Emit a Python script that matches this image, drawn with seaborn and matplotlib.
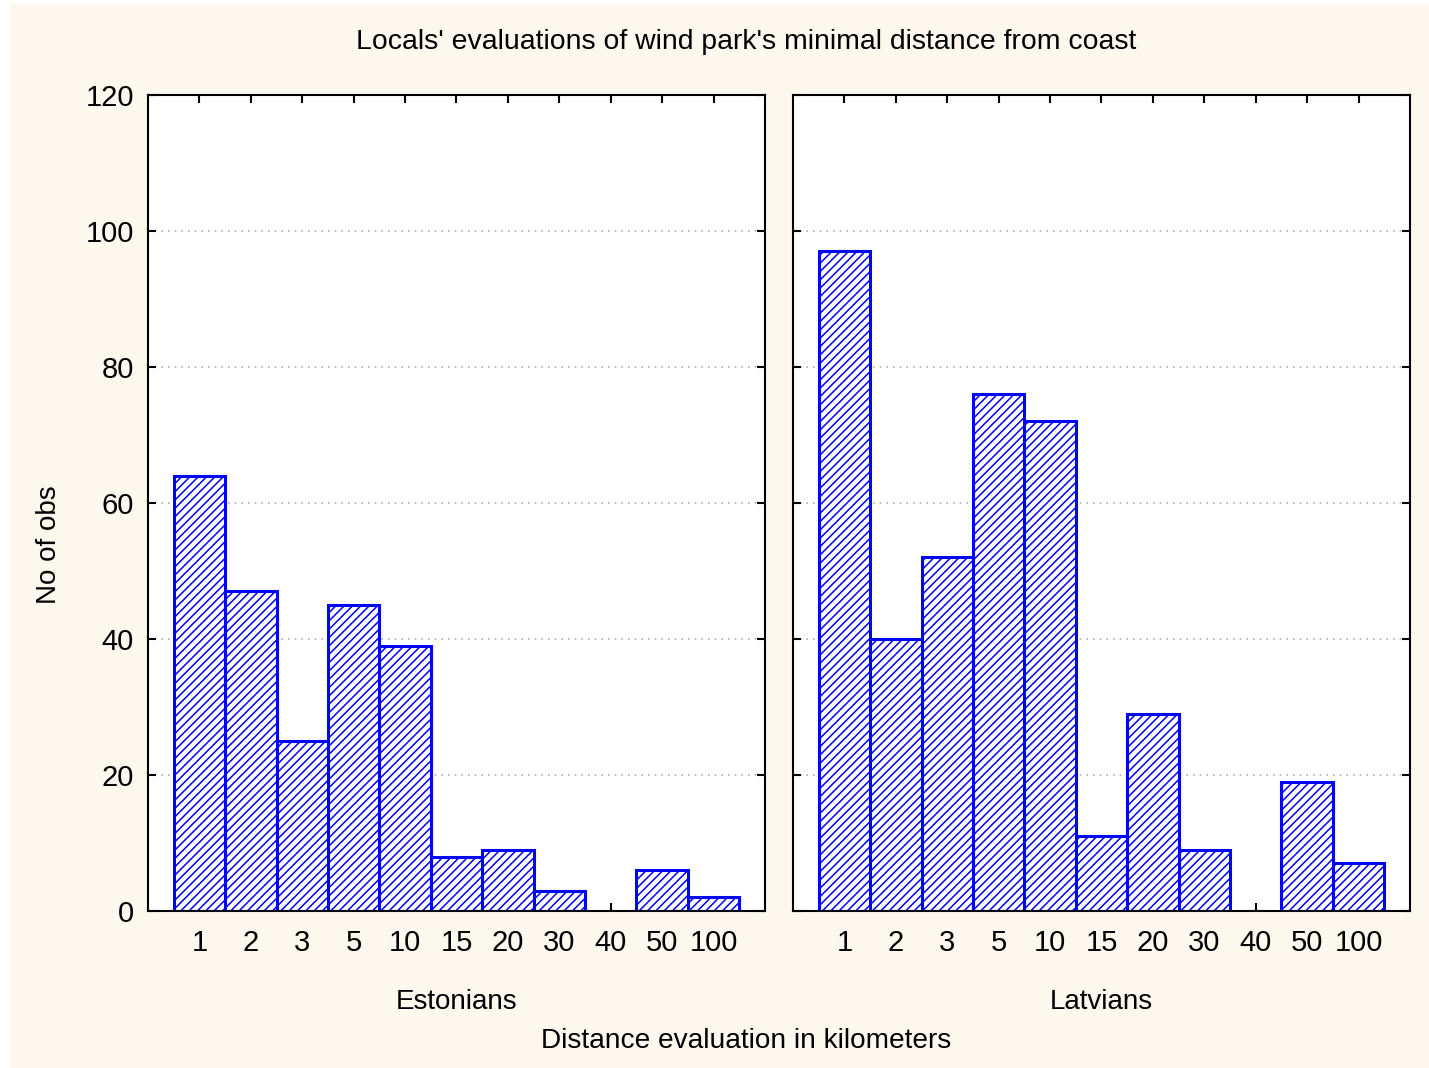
import matplotlib
matplotlib.use("Agg")
import matplotlib.pyplot as plt
import seaborn as sns
from matplotlib.patches import Rectangle

# Данные: оценка минимального расстояния (км)
distances = ["1", "2", "3", "5", "10", "15", "20", "30", "40", "50", "100"]
estonians = [64, 47, 25, 45, 39, 8, 9, 3, 0, 6, 2]
latvians = [97, 40, 52, 76, 72, 11, 29, 9, 0, 19, 7]
groups = ["Estonians", "Latvians"]
y_ticks = [0, 20, 40, 60, 80, 100, 120]

sns.set_style("white")
plt.rcParams['font.family'] = ['Liberation Sans', 'DejaVu Sans']
plt.rcParams['hatch.linewidth'] = 1.1
plt.rcParams['text.color'] = 'black'
plt.rcParams['axes.labelcolor'] = 'black'

W, H = 1429, 1068
fig = plt.figure(figsize=(W / 100, H / 100), dpi=100, facecolor='white')
fig.patches.append(Rectangle((10 / W, 0), 1 - 10 / W, 1 - 4 / H, transform=fig.transFigure,
                             facecolor='#fdf8ee', edgecolor='none', zorder=-10))

ax_left = fig.add_axes([148 / W, (H - 911) / H, 617 / W, 816 / H])
ax_right = fig.add_axes([793 / W, (H - 911) / H, 617 / W, 816 / H])

for ax, values, name in zip([ax_left, ax_right], [estonians, latvians], groups):
    sns.barplot(x=distances, y=values, order=distances, ax=ax, color='white', saturation=1,
                width=1, edgecolor='#0000ff', linewidth=2.2, hatch='////', zorder=2)
    for p in ax.patches:
        if p.get_height() == 0:
            p.set_visible(False)
    ax.set_facecolor('white')
    ax.set_xlim(-1, 11)
    ax.set_ylim(0, 120)
    ax.set_yticks(y_ticks)
    ax.yaxis.grid(True, linestyle=(0, (1, 3)), color='#b0b0b0', linewidth=1.2, zorder=0)
    ax.set_axisbelow(True)
    ax.tick_params(direction='in', length=6, width=1.5, top=True, right=True,
                   bottom=True, left=True, labelsize=21, colors='black')
    ax.tick_params(axis='x', pad=13)
    ax.tick_params(axis='y', pad=10)
    for sp in ax.spines.values():
        sp.set_visible(True)
        sp.set_color('black')
        sp.set_linewidth(1.5)
    ax.set_xlabel(name, fontsize=20, labelpad=23)
    ax.set_ylabel('')

ax_right.tick_params(labelleft=False)
ax_left.set_ylabel('No of obs', fontsize=20)
ax_left.yaxis.set_label_coords((62 - 148) / 617, (911 - 545) / 816)

fig.text(746 / W, 1 - 42 / H, "Locals' evaluations of wind park's minimal distance from coast",
         ha='center', va='center', fontsize=20.4)
fig.text(746 / W, 1 - 1041 / H, "Distance evaluation in kilometers",
         ha='center', va='center', fontsize=20.2)

fig.savefig('out.png', dpi=100, facecolor=fig.get_facecolor())
